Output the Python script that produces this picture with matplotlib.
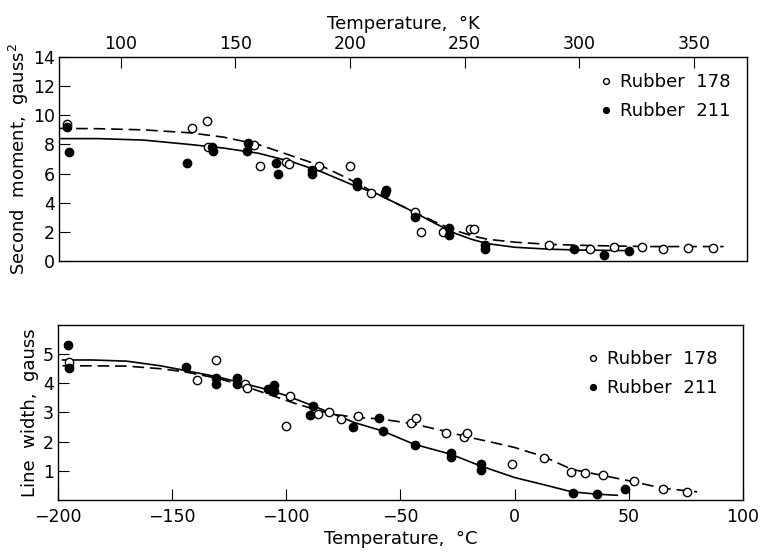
import numpy as np
import matplotlib
matplotlib.use('Agg')
import matplotlib.pyplot as plt

plt.rcParams['font.family'] = ['DejaVu Sans']
plt.rcParams['font.size'] = 12

# ---- top panel: second moment vs temperature (K) ----
k_178 = [76.5, 131.0, 137.6, 138.3, 158.2, 160.8, 172.1, 173.6, 186.7, 200.1, 209.0,
         228.2, 230.9, 240.8, 252.4, 254.1, 286.8, 304.7, 315.3, 327.5, 336.7, 347.6, 358.2]
m2_178 = [9.4, 9.1, 9.6, 7.8, 7.95, 6.5, 6.8, 6.65, 6.5, 6.55, 4.7,
          3.4, 2.0, 2.03, 2.19, 2.19, 1.13, 0.8, 1.0, 1.0, 0.84, 0.88, 0.88]
k_211 = [76.5, 77.5, 128.8, 140.0, 140.5, 155.7, 155.0, 167.8, 168.8, 183.4, 183.6,
         203.0, 203.2, 215.3, 215.6, 228.2, 243.2, 243.4, 258.9, 259.0, 297.7, 311.0, 321.9]
m2_211 = [9.2, 7.45, 6.75, 7.8, 7.55, 8.1, 7.55, 6.7, 6.0, 6.28, 5.95,
          5.42, 5.15, 4.7, 4.85, 3.05, 2.25, 1.8, 1.13, 0.8, 0.8, 0.45, 0.72]

curve_k_178 = [73, 90, 110, 130, 145, 160, 175, 188, 200, 212, 225, 237, 246, 253, 260, 272, 287, 305, 330, 363]
curve_m2_178 = [9.1, 9.08, 9.0, 8.8, 8.5, 8.0, 7.2, 6.5, 5.6, 4.6, 3.6, 2.7, 2.1, 1.75, 1.5, 1.3, 1.15, 1.07, 1.0, 1.0]
curve_k_211 = [73, 90, 110, 130, 145, 160, 175, 188, 200, 212, 225, 237, 246, 253, 260, 272, 287, 300, 322]
curve_m2_211 = [8.4, 8.4, 8.3, 8.0, 7.75, 7.4, 6.8, 6.1, 5.3, 4.6, 3.6, 2.6, 1.9, 1.5, 1.2, 0.95, 0.82, 0.76, 0.72]

# ---- bottom panel: line width vs temperature (C) ----
c_178 = [-195.3, -139.3, -130.7, -118.0, -117.3, -100.1, -98.3, -86.2, -81.5, -76.0, -68.7,
         -45.3, -43.4, -30.0, -22.0, -20.8, -1.0, 13.1, 24.8, 30.9, 38.6, 52.2, 64.9, 75.6]
lw_178 = [4.74, 4.1, 4.8, 3.99, 3.85, 2.55, 3.56, 2.96, 3.0, 2.78, 2.88,
          2.65, 2.81, 2.31, 2.15, 2.31, 1.23, 1.44, 0.97, 0.92, 0.85, 0.66, 0.37, 0.29]
c_211 = [-195.4, -195.0, -143.8, -131.0, -131.0, -121.7, -121.7, -108.1, -105.6, -105.6,
         -89.5, -88.4, -70.6, -59.4, -57.7, -43.8, -28.0, -28.0, -14.9, -14.9, 25.5, 36.2, 48.4]
lw_211 = [5.3, 4.51, 4.57, 4.19, 3.99, 4.17, 3.99, 3.81, 3.93, 3.73,
          2.91, 3.22, 2.5, 2.8, 2.36, 1.89, 1.62, 1.48, 1.25, 1.03, 0.23, 0.19, 0.37]

curve_c_178 = [-198, -185, -170, -155, -145, -130, -120, -110, -95, -80, -68, -59, -45, -30, -20, -10, 0, 13, 25, 38, 50, 65, 80]
curve_lw_178 = [4.6, 4.6, 4.59, 4.5, 4.4, 4.17, 3.95, 3.68, 3.28, 2.94, 2.82, 2.78, 2.62, 2.35, 2.15, 1.98, 1.8, 1.48, 1.05, 0.85, 0.66, 0.4, 0.28]
curve_c_211 = [-198, -185, -170, -155, -145, -130, -120, -110, -100, -88, -70, -58, -44, -28, -15, 0, 15, 25, 36, 45]
curve_lw_211 = [4.8, 4.8, 4.76, 4.6, 4.45, 4.22, 4.02, 3.82, 3.58, 3.22, 2.65, 2.37, 1.91, 1.57, 1.17, 0.77, 0.48, 0.28, 0.2, 0.16]

fig = plt.figure(figsize=(7.61, 5.58), dpi=100)
ax1 = fig.add_axes([0.0775, 0.532, 0.904, 0.366])
ax2 = fig.add_axes([0.0762, 0.104, 0.900, 0.3136])

dash = (0, (7, 3.5))

# top
ax1.plot(curve_k_178, curve_m2_178, color='black', lw=1.2, ls=dash)
ax1.plot(curve_k_211, curve_m2_211, color='black', lw=1.2)
ax1.plot(k_178, m2_178, 'o', mfc='white', mec='black', ms=6, mew=1.0, ls='none', label='Rubber  178')
ax1.plot(k_211, m2_211, 'o', mfc='black', mec='black', ms=6, ls='none', label='Rubber  211')
ax1.set_xlim(73.15, 373.15)
ax1.set_ylim(0, 14)
ax1.set_xticks([100, 150, 200, 250, 300, 350])
ax1.set_yticks(range(0, 15, 2))
ax1.xaxis.tick_top()
ax1.xaxis.set_label_position('top')
ax1.tick_params(axis='x', direction='in', length=8, pad=3, labelsize=12.5)
ax1.tick_params(axis='y', direction='in', length=8, pad=3, labelsize=12.5)
ax1.set_xlabel('Temperature,  °K', fontsize=13, labelpad=4)
ax1.set_ylabel('Second  moment,  gauss$^2$', fontsize=13, labelpad=1)
ax1.legend(loc='upper right', frameon=False, fontsize=13, markerscale=0.7,
           handlelength=0.6, handletextpad=0.5, borderaxespad=0.5, labelspacing=0.6)

# bottom
ax2.plot(curve_c_178, curve_lw_178, color='black', lw=1.2, ls=dash)
ax2.plot(curve_c_211, curve_lw_211, color='black', lw=1.2)
ax2.plot(c_178, lw_178, 'o', mfc='white', mec='black', ms=6, mew=1.0, ls='none', label='Rubber  178')
ax2.plot(c_211, lw_211, 'o', mfc='black', mec='black', ms=6, ls='none', label='Rubber  211')
ax2.set_xlim(-200, 100)
ax2.set_ylim(0, 6)
ax2.set_xticks([-200, -150, -100, -50, 0, 50, 100])
ax2.set_yticks([1, 2, 3, 4, 5])
ax2.tick_params(axis='x', direction='in', length=8, pad=6, labelsize=12.5)
ax2.tick_params(axis='y', direction='in', length=8, pad=3, labelsize=12.5)
ax2.set_xlabel('Temperature,  °C', fontsize=13, labelpad=3)
ax2.set_ylabel('Line  width,  gauss', fontsize=13, labelpad=3)
ax2.legend(loc='upper right', frameon=False, fontsize=13, markerscale=0.7,
           handlelength=0.6, handletextpad=0.5, borderaxespad=1.0, labelspacing=0.6)

for ax in (ax1, ax2):
    for s in ax.spines.values():
        s.set_linewidth(1.0)

fig.savefig('out.png', dpi=100)
